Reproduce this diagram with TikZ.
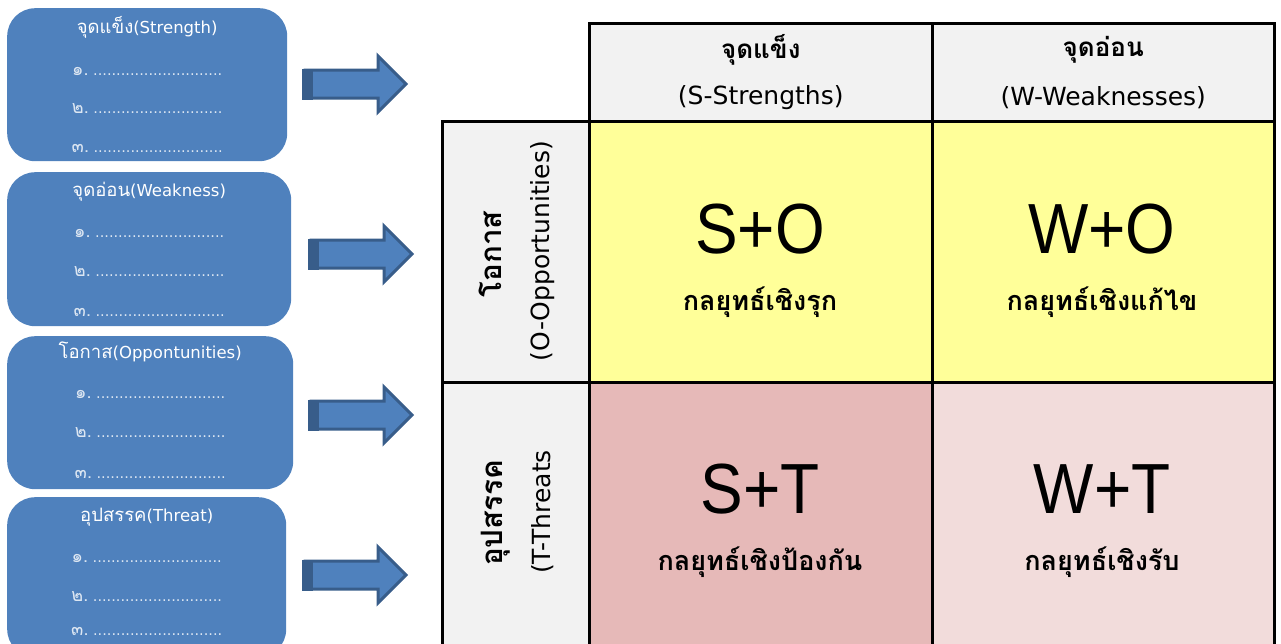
\documentclass[tikz,border=0pt]{standalone}
\usepackage{fontspec}
\setmainfont{DejaVu Sans}
\newfontfamily\thai[Script=Thai]{Loma}
\newfontfamily\arialfont{Liberation Sans}
\usetikzlibrary{shapes.arrows,calc}

\definecolor{boxblue}{HTML}{4F81BD}
\definecolor{arrowedge}{HTML}{385D8A}
\definecolor{hdrgray}{HTML}{F2F2F2}
\definecolor{cellyellow}{HTML}{FFFF99}
\definecolor{cellrose}{HTML}{E6B9B8}
\definecolor{cellpink}{HTML}{F2DCDB}
\definecolor{itemtext}{HTML}{DCE6F2}

\newcommand{\dotline}{............................}
\newcommand{\listitem}[1]{{\thai\fontsize{18}{18}\selectfont #1.}\ \dotline}
\newcommand{\boxhead}[2]{{\thai\fontsize{18.5}{18}\selectfont #1}(#2)}

\begin{document}
\begin{tikzpicture}[x=1pt,y=-1pt,
  listbox/.style={fill=boxblue, draw=none, rounded corners=28pt,
    anchor=north west, inner sep=0pt},
  boxtitle/.style={text=white, font=\fontsize{16.5}{17}\selectfont, inner sep=0pt},
  boxitem/.style={text=itemtext, font=\fontsize{14.5}{15}\selectfont, inner sep=0pt},
  blockarrow/.style={single arrow, single arrow head extend=14pt,
    minimum height=101pt, inner xsep=0pt, inner ysep=12.5pt,
    fill=boxblue, draw=arrowedge, line width=3pt, anchor=tail},
  cell/.style={draw=black, line width=2.5pt, anchor=north west, inner sep=0pt},
  hdrthai/.style={font=\thai\bfseries\fontsize{26}{26}\selectfont, inner sep=0pt},
  rowthai/.style={font=\thai\bfseries\fontsize{29.5}{30}\selectfont, inner sep=0pt},
  hdrlatin/.style={font=\fontsize{25}{25}\selectfont, inner sep=0pt},
  combo/.style={font=\arialfont\fontsize{71}{71}\selectfont, inner sep=0pt},
  strategy/.style={font=\thai\bfseries\fontsize{27}{27}\selectfont, inner sep=0pt}
]
\useasboundingbox (0,0) rectangle (1281,643);

% ---- list boxes on the left ----
\node[listbox, minimum width=280pt, minimum height=153pt] (bs) at (7,8) {};
\node[listbox, minimum width=284pt, minimum height=154pt] (bw) at (7,172) {};
\node[listbox, minimum width=286pt, minimum height=153pt] (bo) at (7,336) {};
\node[listbox, minimum width=279pt, minimum height=160pt] (bt) at (7,497) {};

\node[boxtitle] (bst) at ($(bs.north)+(0,19)$) {\boxhead{จุดแข็ง}{Strength}};
\node[boxitem] (bs1) at ($(bs.north)+(0,63)$) {\listitem{๑}};
\node[boxitem] (bs2) at ($(bs.north)+(0,101)$) {\listitem{๒}};
\node[boxitem] (bs3) at ($(bs.north)+(0,140)$) {\listitem{๓}};

\node[boxtitle] (bwt) at ($(bw.north)+(0,20)$) {\boxhead{จุดอ่อน}{Weakness}};
\node[boxitem] (bw1) at ($(bw.north)+(0,61)$) {\listitem{๑}};
\node[boxitem] (bw2) at ($(bw.north)+(0,100)$) {\listitem{๒}};
\node[boxitem] (bw3) at ($(bw.north)+(0,140)$) {\listitem{๓}};

\node[boxtitle] (bot) at ($(bo.north)+(0,16)$) {\boxhead{โอกาส}{Oppontunities}};
\node[boxitem] (bo1) at ($(bo.north)+(0,58)$) {\listitem{๑}};
\node[boxitem] (bo2) at ($(bo.north)+(0,97)$) {\listitem{๒}};
\node[boxitem] (bo3) at ($(bo.north)+(0,138)$) {\listitem{๓}};

\node[boxtitle] (btt) at ($(bt.north)+(0,20)$) {\boxhead{อุปสรรค}{Threat}};
\node[boxitem] (bt1) at ($(bt.north)+(0,61)$) {\listitem{๑}};
\node[boxitem] (bt2) at ($(bt.north)+(0,100)$) {\listitem{๒}};
\node[boxitem] (bt3) at ($(bt.north)+(0,134)$) {\listitem{๓}};

% ---- block arrows (with a darker band at the tail) ----
\foreach \name/\x/\y in {as/303.5/84, aw/309.5/254, ao/309.5/415, at/303.5/575} {
  \node[blockarrow] (\name) at (\x,\y) {};
  \fill[arrowedge] ($(\name.tail)+(-1.5,-15.5)$) rectangle ($(\name.tail)+(9,15.5)$);
}

% ---- SWOT matrix ----
\node[cell, fill=hdrgray, minimum width=343pt, minimum height=98pt] (hs) at (588,22) {};
\node[cell, fill=hdrgray, minimum width=342pt, minimum height=98pt] (hw) at (931,22) {};
\node[cell, fill=hdrgray, minimum width=147pt, minimum height=261pt] (ro) at (441,120) {};
\node[cell, fill=hdrgray, minimum width=147pt, minimum height=270pt] (rt) at (441,381) {};
\node[cell, fill=cellyellow, minimum width=343pt, minimum height=261pt] (so) at (588,120) {};
\node[cell, fill=cellyellow, minimum width=342pt, minimum height=261pt] (wo) at (931,120) {};
\node[cell, fill=cellrose, minimum width=343pt, minimum height=270pt] (st) at (588,381) {};
\node[cell, fill=cellpink, minimum width=342pt, minimum height=270pt] (wt) at (931,381) {};

% column headers
\node[hdrthai] (hs1) at ($(hs.north)+(0,28)$) {จุดแข็ง};
\node[hdrlatin] (hs2) at ($(hs.north)+(0,76)$) {(S-Strengths)};
\node[hdrthai] (hw1) at ($(hw.north)+(0,28)$) {จุดอ่อน};
\node[hdrlatin] (hw2) at ($(hw.north)+(0,76)$) {(W-Weaknesses)};

% row headers, set sideways
\node[rowthai, rotate=90] (ro1) at (490,254) {โอกาส};
\node[hdrlatin, rotate=90] (ro2) at (543,251) {(O-Opportunities)};
\node[rowthai, rotate=90] (rt1) at (496,513) {อุปสรรค};
\node[hdrlatin, rotate=90] (rt2) at (543,512) {(T-Threats};

% strategy cells
\node[combo] (so1) at (760,229) {\scalebox{0.9}[1]{S+O}};
\node[strategy] (so2) at (760,302) {กลยุทธ์เชิงรุก};
\node[combo] (wo1) at (1102,229) {\scalebox{0.9}[1]{W+O}};
\node[strategy] (wo2) at (1102,302) {กลยุทธ์เชิงแก้ไข};
\node[combo] (st1) at (760,489) {\scalebox{0.9}[1]{S+T}};
\node[strategy] (st2) at (760,562) {กลยุทธ์เชิงป้องกัน};
\node[combo] (wt1) at (1102,489) {\scalebox{0.9}[1]{W+T}};
\node[strategy] (wt2) at (1102,562) {กลยุทธ์เชิงรับ};
\end{tikzpicture}
\end{document}
